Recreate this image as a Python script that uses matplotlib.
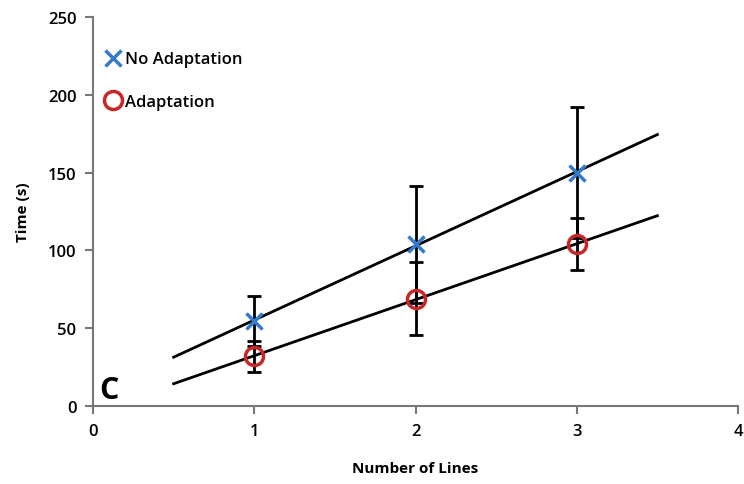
import numpy as np
import matplotlib
matplotlib.use("Agg")
import matplotlib.pyplot as plt

plt.rcParams['font.family'] = ['Open Sans', 'DejaVu Sans']

lines_n = [1, 2, 3]
no_adapt = [54.6, 104, 150]
no_adapt_err = [16, 37.6, 42]
adapt = [32, 68.8, 104]
adapt_err = [10, 23.5, 16.5]
x_ticks = [0, 1, 2, 3, 4]
y_ticks = [0, 50, 100, 150, 200, 250]

fig = plt.figure(figsize=(7.44, 4.85), dpi=100)
ax = fig.add_axes([0.125, 0.161, 0.867, 0.802])

blue = '#3579CC'
red = '#C62828'

x = np.array(lines_n, dtype=float)
for y in (no_adapt, adapt):
    k, b = np.polyfit(x, y, 1)
    xs = np.array([x.min() - 0.5, x.max() + 0.5])
    ax.plot(xs, k * xs + b, color='black', lw=2, zorder=2)

ax.errorbar(lines_n, no_adapt, yerr=no_adapt_err, fmt='none', ecolor='black',
            elinewidth=2, capsize=5, capthick=2, zorder=3)
ax.errorbar(lines_n, adapt, yerr=adapt_err, fmt='none', ecolor='black',
            elinewidth=2, capsize=5, capthick=2, zorder=3)
ax.plot(lines_n, no_adapt, ls='none', marker='x', color=blue, ms=12, mew=2.5,
        label='No Adaptation', zorder=4)
ax.plot(lines_n, adapt, ls='none', marker='o', mfc='none', mec=red, ms=13, mew=2.5,
        label='Adaptation', zorder=4)

ax.set_xlim(0, 4)
ax.set_ylim(0, 250)
ax.set_xticks(x_ticks)
ax.set_yticks(y_ticks)
for s in ('top', 'right'):
    ax.spines[s].set_visible(False)
for s in ('left', 'bottom'):
    ax.spines[s].set_color('#777777')
    ax.spines[s].set_linewidth(1.5)
ax.tick_params(direction='out', length=6, width=1.5, color='#777777',
               labelsize=12, pad=6)
for lab in ax.get_xticklabels() + ax.get_yticklabels():
    lab.set_fontweight('semibold')

ax.set_xlabel('Number of Lines', fontsize=11, fontweight='bold', labelpad=16)
ax.set_ylabel('Time (s)', fontsize=11, fontweight='bold', labelpad=13)

ax.text(0.01, 0.02, 'C', transform=ax.transAxes, fontsize=22, fontweight='bold')

ax.legend(loc='upper left', bbox_to_anchor=(0.005, 0.937), frameon=False,
          handlelength=0.8, handletextpad=0.3, labelspacing=1.6,
          borderaxespad=0.2, prop={'weight': 'semibold', 'size': 12})

fig.savefig('out.png', dpi=100)
